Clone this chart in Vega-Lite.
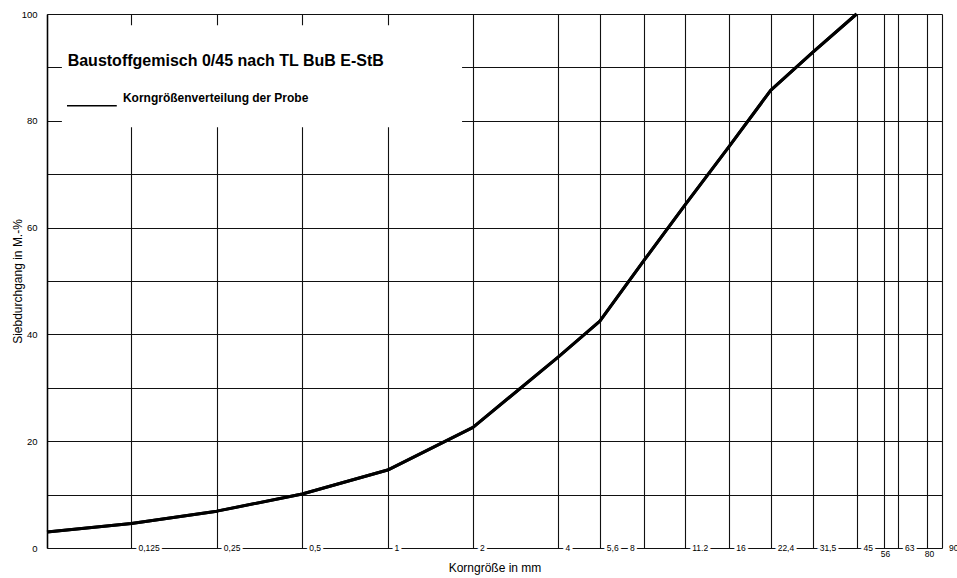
{
  "$schema": "https://vega.github.io/schema/vega-lite/v6.json",
  "width": 895,
  "height": 534,
  "autosize": {"type": "none"},
  "padding": {"left": 47, "top": 14, "right": 15, "bottom": 30},
  "background": "white",
  "config": {"view": {"stroke": null}, "font": "Liberation Sans"},
  "datasets": {
    "curve": [
      {"size": 0.063, "passing": 3.0},
      {"size": 0.125, "passing": 4.6},
      {"size": 0.25, "passing": 6.9},
      {"size": 0.5, "passing": 10.1},
      {"size": 1, "passing": 14.6},
      {"size": 2, "passing": 22.6},
      {"size": 4, "passing": 35.8},
      {"size": 5.6, "passing": 42.5},
      {"size": 8, "passing": 53.8},
      {"size": 11.2, "passing": 64.3},
      {"size": 16, "passing": 75.2},
      {"size": 22.4, "passing": 85.7},
      {"size": 31.5, "passing": 92.8},
      {"size": 45, "passing": 100}
    ],
    "sieves": [
      {"size": 0.125, "label": "0,125"},
      {"size": 0.25, "label": "0,25"},
      {"size": 0.5, "label": "0,5"},
      {"size": 1, "label": "1"},
      {"size": 2, "label": "2"},
      {"size": 4, "label": "4"},
      {"size": 5.6, "label": "5,6"},
      {"size": 8, "label": "8"},
      {"size": 11.2, "label": "11.2"},
      {"size": 16, "label": "16"},
      {"size": 22.4, "label": "22,4"},
      {"size": 31.5, "label": "31,5"},
      {"size": 45, "label": "45"},
      {"size": 56, "label": "56"},
      {"size": 63, "label": "63"},
      {"size": 80, "label": "80"},
      {"size": 90, "label": "90"}
    ]
  },
  "layer": [
    {
      "data": {"name": "curve"},
      "mark": {"type": "line", "color": "black", "strokeWidth": 3, "strokeJoin": "round"},
      "encoding": {
        "x": {
          "field": "size",
          "type": "quantitative",
          "scale": {"type": "log", "domain": [0.063, 90], "nice": false},
          "axis": {
            "values": [0.063, 0.125, 0.25, 0.5, 1, 2, 4, 5.6, 8, 11.2, 16, 22.4, 31.5, 45, 56, 63, 80, 90],
            "labels": false,
            "ticks": false,
            "domain": false,
            "grid": true,
            "gridColor": "#111111",
            "gridWidth": 1.1,
            "gridOpacity": 1,
            "title": "Korngröße in mm",
            "titleFont": "Liberation Sans",
            "titleFontSize": 12,
            "titleFontWeight": "normal",
            "titleColor": "black",
            "titlePadding": 14
          }
        },
        "y": {
          "field": "passing",
          "type": "quantitative",
          "scale": {"domain": [0, 100], "nice": false},
          "axis": {
            "values": [0, 10, 20, 30, 40, 50, 60, 70, 80, 90, 100],
            "labelExpr": "datum.value % 20 == 0 ? datum.label : ''",
            "grid": true,
            "gridColor": "#111111",
            "gridWidth": 1.1,
            "gridOpacity": 1,
            "ticks": false,
            "domain": true,
            "domainColor": "black",
            "domainWidth": 1.5,
            "labelPadding": 10,
            "labelFontSize": 9.5,
            "labelColor": "black",
            "labelFont": "Liberation Sans",
            "title": "Siebdurchgang in M.-%",
            "titleFont": "Liberation Sans",
            "titleFontSize": 12,
            "titleFontWeight": "normal",
            "titleColor": "black",
            "titlePadding": -3
          }
        }
      }
    },
    {
      "data": {"values": [{}]},
      "mark": {"type": "rect", "color": "white"},
      "encoding": {
        "x": {"datum": 0.0711},
        "x2": {"datum": 1.83},
        "y": {"datum": 78.8},
        "y2": {"datum": 97.9}
      }
    },
    {
      "data": {"name": "curve"},
      "mark": {"type": "line", "color": "black", "strokeWidth": 3, "strokeJoin": "round"},
      "encoding": {
        "x": {"field": "size", "type": "quantitative"},
        "y": {"field": "passing", "type": "quantitative"}
      }
    },
    {
      "data": {"values": [{}]},
      "mark": {"type": "text", "text": "Baustoffgemisch 0/45 nach TL BuB E-StB", "align": "left", "baseline": "alphabetic", "fontSize": 16, "fontWeight": "bold", "color": "black", "dy": -1},
      "encoding": {
        "x": {"datum": 0.0745},
        "y": {"datum": 90}
      }
    },
    {
      "data": {"values": [{}]},
      "mark": {"type": "rule", "color": "black", "strokeWidth": 1.5},
      "encoding": {
        "x": {"datum": 0.0741},
        "x2": {"datum": 0.111},
        "y": {"datum": 82.8}
      }
    },
    {
      "data": {"values": [{}]},
      "mark": {"type": "text", "text": "Korngrößenverteilung der Probe", "align": "left", "baseline": "alphabetic", "fontSize": 12, "fontWeight": "bold", "color": "black"},
      "encoding": {
        "x": {"datum": 0.1167},
        "y": {"datum": 83.6}
      }
    },
    {
      "data": {"name": "sieves"},
      "transform": [{"filter": {"not": {"field": "label", "oneOf": ["8", "56", "80"]}}}],
      "mark": {"type": "text", "align": "left", "baseline": "middle", "dx": 7, "fontSize": 8.5, "color": "white", "stroke": "white", "strokeWidth": 5},
      "encoding": {
        "x": {"field": "size", "type": "quantitative"},
        "y": {"datum": 0},
        "text": {"field": "label"}
      }
    },
    {
      "data": {"name": "sieves"},
      "transform": [{"filter": {"not": {"field": "label", "oneOf": ["8", "56", "80"]}}}],
      "mark": {"type": "text", "align": "left", "baseline": "middle", "dx": 7, "fontSize": 8.5, "color": "black"},
      "encoding": {
        "x": {"field": "size", "type": "quantitative"},
        "y": {"datum": 0},
        "text": {"field": "label"}
      }
    },
    {
      "data": {"name": "sieves"},
      "transform": [{"filter": {"field": "label", "equal": "8"}}],
      "mark": {"type": "text", "align": "right", "baseline": "middle", "dx": -9, "fontSize": 8.5, "color": "white", "stroke": "white", "strokeWidth": 5},
      "encoding": {
        "x": {"field": "size", "type": "quantitative"},
        "y": {"datum": 0},
        "text": {"field": "label"}
      }
    },
    {
      "data": {"name": "sieves"},
      "transform": [{"filter": {"field": "label", "equal": "8"}}],
      "mark": {"type": "text", "align": "right", "baseline": "middle", "dx": -9, "fontSize": 8.5, "color": "black"},
      "encoding": {
        "x": {"field": "size", "type": "quantitative"},
        "y": {"datum": 0},
        "text": {"field": "label"}
      }
    },
    {
      "data": {"name": "sieves"},
      "transform": [{"filter": {"field": "label", "oneOf": ["56", "80"]}}],
      "mark": {"type": "text", "align": "center", "baseline": "top", "dx": 2, "dy": 2, "fontSize": 8.5, "color": "black"},
      "encoding": {
        "x": {"field": "size", "type": "quantitative"},
        "y": {"datum": 0},
        "text": {"field": "label"}
      }
    }
  ]
}
